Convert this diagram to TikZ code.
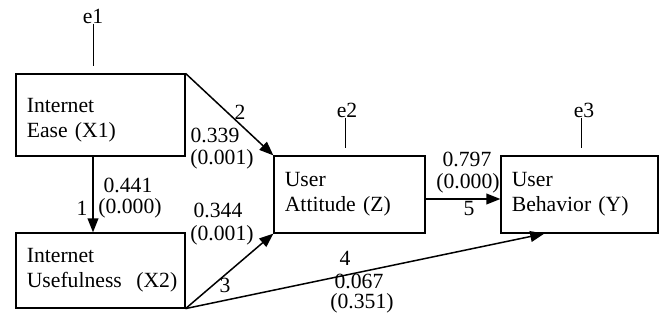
\documentclass[tikz,border=0pt]{standalone}
\usepackage{fontspec}
\setmainfont{Liberation Serif}
\usetikzlibrary{arrows.meta}

\tikzset{
  box/.style={draw, line width=0.7pt, inner xsep=6.5pt, align=left,
    font=\fontsize{13}{15}\selectfont},
  lbl/.style={inner sep=0pt, font=\fontsize{13}{14}\selectfont},
  link/.style={->, >={Triangle[length=8.5pt,width=6.5pt]}, line width=0.9pt},
}

\begin{document}
\begin{tikzpicture}[x=0.6pt,y=-0.6pt]
\useasboundingbox (0,0) rectangle (664,323);

% boxes
\node[box, minimum width=101.4pt, minimum height=49.2pt, text width=88.4pt] (X1) at (100.5,115) {\rule{0pt}{15pt}Internet\\Ease (X1)};
\node[box, minimum width=101.4pt, minimum height=45pt, text width=88.4pt] (X2) at (100.5,270.5) {Internet\\Usefulness~~(X2)};
\node[box, minimum width=90.6pt, minimum height=46.2pt, text width=77.6pt] (Z) at (349.5,194.5) {User\\Attitude (Z)};
\node[box, minimum width=94.2pt, minimum height=46.2pt, text width=81.2pt] (Y) at (579.5,194.5) {User\\Behavior (Y)};

% error terms
\node[lbl] (e1) at (93,16) {e1};
\node[lbl] (e2) at (347,110) {e2};
\node[lbl] (e3) at (584,110) {e3};
\draw[line width=0.6pt] (e1.south) -- ++(0,42);
\draw[line width=0.6pt] ([xshift=-1pt]e2.south) -- ++(0,30);
\draw[line width=0.6pt] ([xshift=-1.5pt]e3.south) -- ++(0,30);

% paths
\draw[link] (X1.south -| e1) -- (X2.north -| e1);
\draw[link] (X1.north east) -- (Z.north west);
\draw[link] (X2.south east) -- (Z.south west);
\draw[link] (X2.south east) -- ([xshift=26.4pt]Y.south west);
\draw[link] ([yshift=-2.7pt]Z.east) -- ([yshift=-2.7pt]Y.west);

% estimates
\node[lbl] (n1) at (82,208) {1};
\node[lbl] (c1) at (128,185) {0.441};
\node[lbl] (p1) at (130,208) {(0.000)};
\node[lbl] (n2) at (240,112) {2};
\node[lbl] (c2) at (215,135) {0.339};
\node[lbl] (p2) at (222,159) {(0.001)};
\node[lbl] (c3) at (218,210) {0.344};
\node[lbl] (p3) at (222,235) {(0.001)};
\node[lbl] (n3) at (225,285) {3};
\node[lbl] (n4) at (345,258) {4};
\node[lbl] (c4) at (359,281) {0.067};
\node[lbl] (p4) at (362,303) {(0.351)};
\node[lbl] (c5) at (467,159) {0.797};
\node[lbl] (p5) at (468,183) {(0.000)};
\node[lbl] (n5) at (469,209) {5};

\end{tikzpicture}
\end{document}
